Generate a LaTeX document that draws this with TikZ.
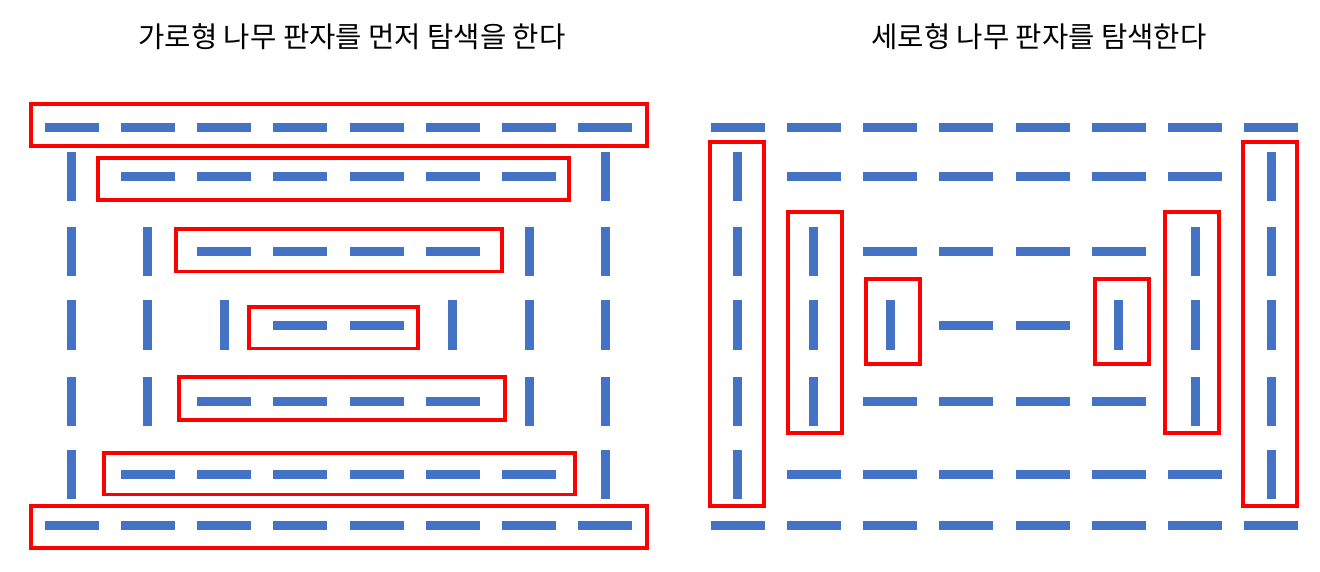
\documentclass[tikz,border=0pt]{standalone}
\usepackage{fontspec}
\newfontfamily\kofont{Noto Sans CJK KR}
\definecolor{plankblue}{HTML}{4472C4}
\definecolor{pickred}{HTML}{FF0000}

\begin{document}
\begin{tikzpicture}
    [x=1pt, y=-1pt,
    plank/.style={draw=plankblue, line width=9pt},
    pick/.style={draw=pickred, line width=3.6pt},
    heading/.style={font=\kofont\fontsize{28.6}{34}\selectfont, text=black, inner sep=0pt, anchor=base}
    ]
    \useasboundingbox (0,0) rectangle (1320,572);
    % titles
    \node (leftTitle) [heading] at (352,47.3) {가로형 나무 판자를 먼저 탐색을 한다};
    \node (rightTitle) [heading] at (1039,47.3) {세로형 나무 판자를 탐색한다};
    % planks, same layout on both sides
    \foreach \xo in {71.5, 737.7} {
        \foreach \y/\d in {127.3/0, 176.6/1, 251.4/2, 325.2/3, 401.3/2, 474.4/1, 525.3/0} {
            \foreach \c in {0,...,7} {
                \pgfmathsetmacro\px{\xo+76.25*\c}
                \pgfmathtruncatemacro\isv{(\c<\d) || (\c>7-\d)}
                \ifnum\isv=1
                    \draw[plank] (\px,\y-24.8) -- (\px,\y+24.8);
                \else
                    \draw[plank] (\px-27,\y) -- (\px+27,\y);
                \fi
            }
        }
    }
    % left: rows picked first
    \draw[pick] (31,104) rectangle (647,146);
    \draw[pick] (98,158) rectangle (569,200);
    \draw[pick] (176,229) rectangle (502,271.5);
    \draw[pick] (249,307) rectangle (418,348.5);
    \draw[pick] (179,377) rectangle (505,420);
    \draw[pick] (104,453) rectangle (575,494.5);
    \draw[pick] (31,506) rectangle (647,548);
    % right: columns picked
    \draw[pick] (710,142) rectangle (764,506);
    \draw[pick] (788,212) rectangle (842,433);
    \draw[pick] (866,279) rectangle (920,364);
    \draw[pick] (1095,279) rectangle (1149,364);
    \draw[pick] (1165,212) rectangle (1219,433);
    \draw[pick] (1243,142) rectangle (1297,506);
\end{tikzpicture}
\end{document}
